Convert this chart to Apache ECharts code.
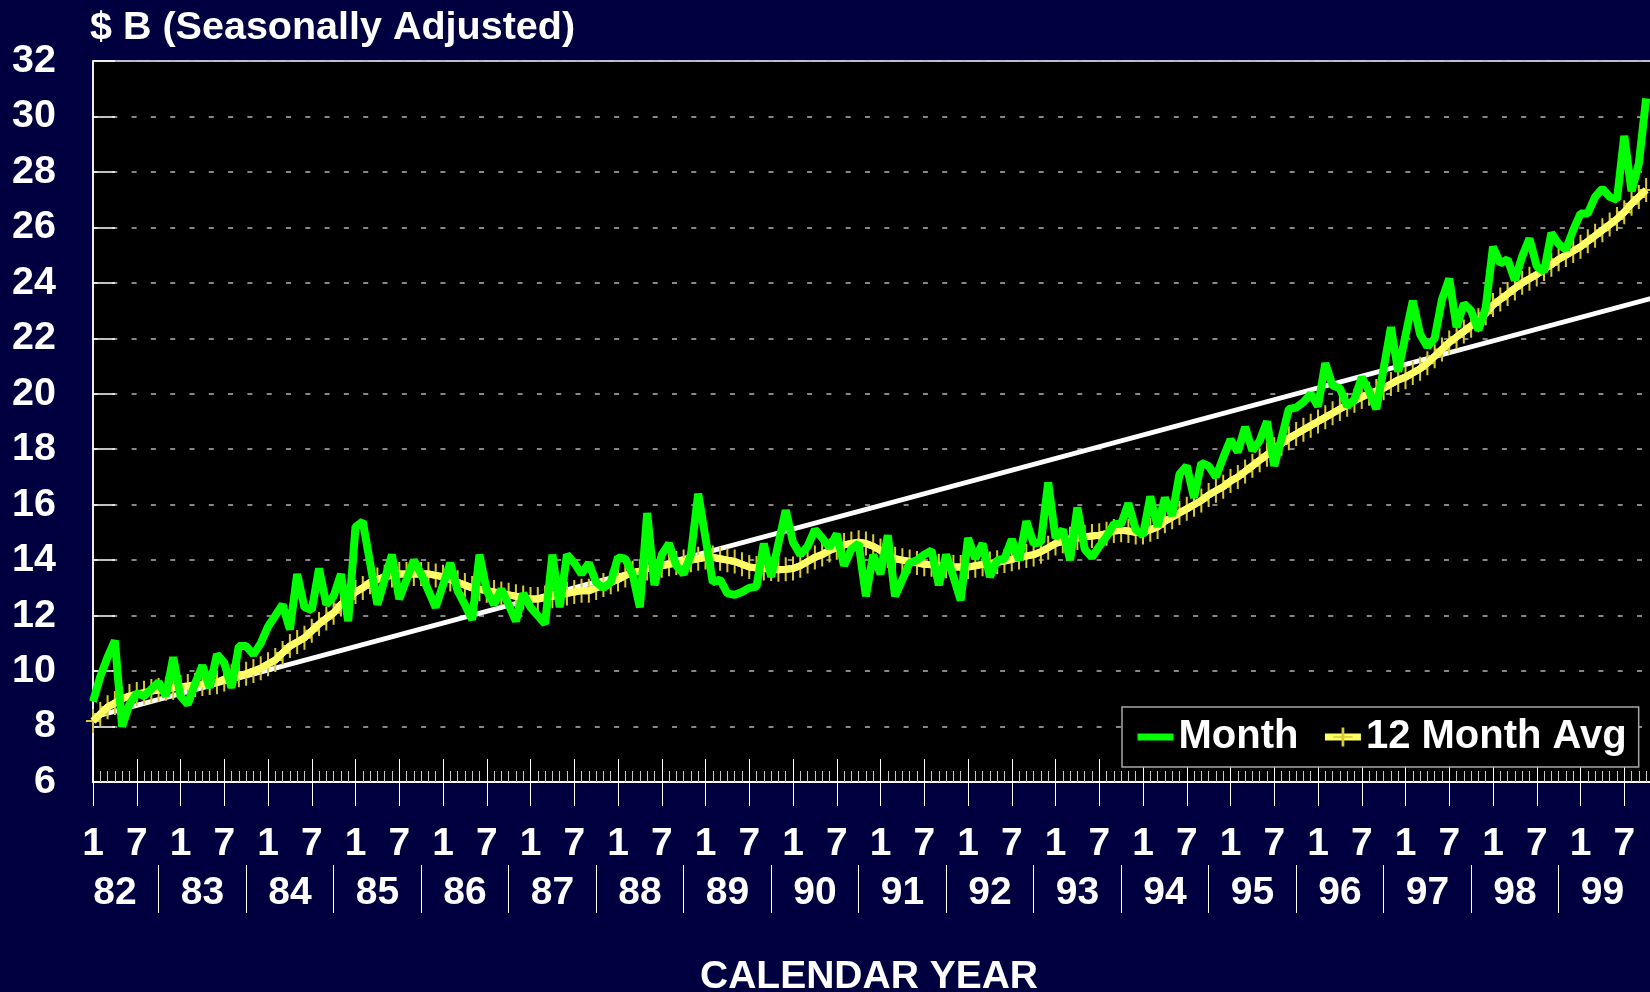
<!DOCTYPE html>
<html>
<head>
<meta charset="utf-8">
<title>$ B (Seasonally Adjusted)</title>
<script src="https://cdn.jsdelivr.net/npm/echarts@6/dist/echarts.min.js"></script>
<style>
  html, body { margin: 0; padding: 0; background: #000040; }
  #chart { width: 1650px; height: 992px; }
</style>
</head>
<body>
<div id="chart"></div>
<script>
// monthly values, Jan 1982 .. Oct 1999 ($ B)
var monthValues = [
  8.9, 9.8, 10.5, 11.1, 8.0, 8.8, 9.2, 9.1, 9.35, 9.6, 9.1, 10.5,          // 82
  9.1, 8.8, 9.55, 10.2, 9.4, 10.6, 10.3, 9.4, 10.9, 10.9, 10.6, 11.0,       // 83
  11.6, 12.0, 12.4, 11.5, 13.5, 12.3, 12.2, 13.7, 12.4, 12.7, 13.5, 11.8,   // 84
  15.2, 15.4, 13.9, 12.4, 13.3, 14.2, 12.6, 13.3, 14.0, 13.5, 12.9, 12.3,   // 85
  13.1, 13.9, 12.9, 12.4, 11.85, 14.2, 12.9, 12.4, 12.95, 12.4, 11.8, 12.8, // 86
  12.3, 12.0, 11.7, 14.2, 12.3, 14.2, 13.9, 13.5, 13.9, 13.2, 13.0, 13.2,   // 87
  14.1, 14.05, 13.5, 12.3, 15.7, 13.1, 14.2, 14.6, 13.8, 13.5, 14.2, 16.4,  // 88
  14.8, 13.2, 13.3, 12.8, 12.75, 12.85, 13.0, 13.05, 14.6, 13.4, 14.6, 15.8, // 89
  14.65, 14.2, 14.5, 15.1, 14.8, 14.45, 14.95, 13.8, 14.4, 14.6, 12.7, 14.2, // 90
  13.5, 14.9, 12.7, 13.3, 13.9, 14.0, 14.2, 14.35, 13.1, 14.2, 13.4, 12.55, // 91
  14.8, 14.05, 14.6, 13.4, 14.0, 14.05, 14.75, 14.0, 15.4, 14.6, 14.65, 16.8, // 92
  14.8, 15.1, 14.0, 15.9, 14.4, 14.1, 14.5, 14.85, 15.3, 15.3, 16.05, 15.1, // 93
  14.9, 16.3, 15.2, 16.25, 15.6, 17.1, 17.4, 16.25, 17.5, 17.4, 17.0, 17.7, // 94
  18.35, 17.9, 18.8, 17.95, 18.3, 19.0, 17.4, 18.4, 19.45, 19.5, 19.7, 20.0, // 95
  19.55, 21.1, 20.3, 20.2, 19.55, 19.8, 20.6, 20.1, 19.45, 20.9, 22.4, 20.8, // 96
  22.1, 23.35, 22.15, 21.7, 22.0, 23.4, 24.15, 22.4, 23.25, 23.0, 22.3, 23.1, // 97
  25.3, 24.7, 24.85, 24.1, 24.95, 25.6, 24.6, 24.4, 25.8, 25.4, 25.2, 25.9, // 98
  26.5, 26.5, 27.1, 27.4, 27.1, 27.0, 29.3, 27.3, 28.3, 30.65              // 99
];

// 12 month moving average
var avgValues = [
  8.2, 8.45, 8.7, 8.85, 9.0, 9.1, 9.17, 9.22, 9.28, 9.32, 9.36, 9.4,
  9.43, 9.46, 9.5, 9.53, 9.57, 9.6, 9.7, 9.8, 9.85, 9.9, 10.0, 10.1,
  10.25, 10.4, 10.65, 10.9, 11.05, 11.2, 11.45, 11.7, 11.9, 12.1, 12.4, 12.6,
  12.85, 13.0, 13.2, 13.3, 13.4, 13.45, 13.5, 13.5, 13.5, 13.5, 13.5, 13.45,
  13.4, 13.3, 13.2, 13.1, 13.0, 12.95, 12.9, 12.85, 12.8, 12.75, 12.7, 12.65,
  12.6, 12.6, 12.65, 12.7, 12.75, 12.8, 12.85, 12.9, 12.9, 13.0, 13.1, 13.2,
  13.3, 13.45, 13.55, 13.6, 13.7, 13.75, 13.8, 13.85, 13.9, 13.95, 14.0, 14.05,
  14.1, 14.1, 14.05, 14.0, 13.95, 13.85, 13.75, 13.72, 13.7, 13.68, 13.65, 13.67,
  13.7, 13.8, 13.95, 14.1, 14.2, 14.35, 14.45, 14.55, 14.6, 14.65, 14.6, 14.5,
  14.35, 14.15, 14.05, 14.0, 13.95, 13.9, 13.85, 13.83, 13.8, 13.78, 13.75, 13.75,
  13.75, 13.8, 13.85, 13.88, 13.92, 13.97, 14.03, 14.1, 14.15, 14.2, 14.3, 14.45,
  14.6, 14.68, 14.77, 14.8, 14.84, 14.87, 14.9, 14.95, 15.05, 15.08, 15.05, 15.0,
  15.0, 15.1, 15.2, 15.4, 15.55, 15.7, 15.85, 16.0, 16.15, 16.35, 16.5, 16.65,
  16.85, 17.0, 17.2, 17.4, 17.6, 17.8, 18.0, 18.2, 18.4, 18.55, 18.7, 18.85,
  19.0, 19.15, 19.3, 19.45, 19.6, 19.75, 19.88, 20.0, 20.1, 20.2, 20.35, 20.5,
  20.6, 20.75, 20.9, 21.1, 21.35, 21.6, 21.85, 22.05, 22.25, 22.45, 22.65, 22.9,
  23.2, 23.4, 23.6, 23.8, 24.0, 24.15, 24.3, 24.5, 24.65, 24.85, 25.0, 25.15,
  25.3, 25.5, 25.7, 25.9, 26.1, 26.3, 26.55, 26.85, 27.1, 27.35
];

// straight trend line: month index -> value
var trendX = [0, 216];
var trendY = [8.34, 23.6];

var yearLabels = ['82', '83', '84', '85', '86', '87', '88', '89', '90',
                  '91', '92', '93', '94', '95', '96', '97', '98', '99'];
var monthLabels = ['1', '7'];   // Jan / Jul tick labels
var yTicks = { min: 6, max: 32, step: 2 };

var FONT = "'Liberation Sans', Arial, sans-serif";
var PLUS = 'path://M6,0h2v24h-2z M0,11h14v2h-14z';

// tick positions (month index)
var everyMonth = [], halfYears = [], yearMid = [], yearSep = [];
for (var i = 0; i < 216; i++) everyMonth.push(i);
for (var i = 0; i < 216; i += 6) halfYears.push(i);
for (var k = 0; k < yearLabels.length; k++) {
  yearMid.push(12 * k + 3);
  if (k < yearLabels.length - 1) yearSep.push(12 * k + 9);
}

function pairs(arr) {
  return arr.map(function (v, i) { return [i, v]; });
}

var chart = echarts.init(document.getElementById('chart'));

var baseX = {
  type: 'value', min: 0, max: 216, position: 'bottom',
  axisLine: { show: false }, axisLabel: { show: false },
  splitLine: { show: false }
};

chart.setOption({
  backgroundColor: '#000040',
  animation: false,
  title: [
    {
      text: '$ B (Seasonally Adjusted)',
      left: 90, top: 8, padding: 0,
      textStyle: { color: '#fff', fontFamily: FONT, fontWeight: 'bold', fontSize: 39.5, lineHeight: 40 }
    },
    {
      text: 'CALENDAR YEAR',
      left: 869, top: 957, padding: 0, textAlign: 'center',
      textStyle: { color: '#fff', fontFamily: FONT, fontWeight: 'bold', fontSize: 39, lineHeight: 40 }
    }
  ],
  legend: {
    data: [
      { name: 'Month', itemStyle: { opacity: 0 } },   // line only, no mark
      { name: '12 Month Avg' }
    ],
    left: 1122, top: 707,
    padding: [10, 12],
    itemGap: 23, itemWidth: 36, itemHeight: 24,
    backgroundColor: '#000',
    borderColor: '#a8a8a8', borderWidth: 1.5,
    lineStyle: { width: 7 },
    textStyle: { color: '#fff', fontFamily: FONT, fontWeight: 'bold', fontSize: 40 }
  },
  grid: {
    left: 93, top: 61, width: 1575, height: 721,
    outerBoundsMode: 'none',
    show: true, backgroundColor: '#000', borderColor: '#fff', borderWidth: 1.5
  },
  xAxis: [
    // axis line, monthly minor ticks, "1 / 7" labels
    {
      type: 'value', min: 0, max: 216, position: 'bottom',
      axisLine: { show: true, lineStyle: { color: '#fff', width: 2 } },
      axisTick: { show: true, inside: true, length: 11, customValues: everyMonth,
                  lineStyle: { color: '#c8c8c8', width: 1 } },
      axisLabel: {
        customValues: halfYears, margin: 43, color: '#fff',
        fontFamily: FONT, fontWeight: 'bold', fontSize: 39,
        formatter: function (v) { return monthLabels[(v % 12) / 6]; }
      },
      splitLine: { show: false }
    },
    // half-year ticks, inside
    Object.assign({}, baseX, {
      axisTick: { show: true, inside: true, length: 23, customValues: halfYears,
                  lineStyle: { color: '#fff', width: 1 } }
    }),
    // half-year ticks, outside
    Object.assign({}, baseX, {
      axisTick: { show: true, inside: false, length: 24, customValues: halfYears,
                  lineStyle: { color: '#fff', width: 1 } }
    }),
    // year row with separators
    Object.assign({}, baseX, {
      offset: 83,
      axisTick: { show: true, inside: false, length: 48, customValues: yearSep,
                  lineStyle: { color: '#fff', width: 1 } },
      axisLabel: {
        show: true, customValues: yearMid, margin: 9, color: '#fff',
        fontFamily: FONT, fontWeight: 'bold', fontSize: 39,
        formatter: function (v) { return yearLabels[(v - 3) / 12]; }
      }
    })
  ],
  yAxis: {
    type: 'value', min: yTicks.min, max: yTicks.max, interval: yTicks.step,
    axisLine: { show: true, lineStyle: { color: '#fff', width: 1.5 } },
    axisTick: { show: true, inside: true, length: 22, lineStyle: { color: '#fff', width: 1.5 } },
    axisLabel: { color: '#fff', fontFamily: FONT, fontWeight: 'bold', fontSize: 39.5, margin: 37 },
    splitLine: { show: true, lineStyle: { color: '#b4b4b4', width: 1.5, type: [5, 14.3] } }
  },
  series: [
    {
      name: 'Trend', type: 'line', xAxisIndex: 0, z: 1,
      data: trendX.map(function (x, i) { return [x, trendY[i]]; }),
      symbol: 'none', lineStyle: { color: '#fff', width: 5 }
    },
    {
      name: '12 Month Avg', type: 'line', xAxisIndex: 0, z: 2,
      data: pairs(avgValues),
      symbol: PLUS, symbolSize: [14, 24], showSymbol: true,
      itemStyle: { color: '#d8c83c' },
      lineStyle: { color: '#ffff66', width: 7 }
    },
    {
      name: 'avgLine', type: 'line', xAxisIndex: 0, z: 3,
      data: pairs(avgValues),
      symbol: 'none', lineStyle: { color: '#ffff66', width: 7 }
    },
    {
      name: 'Month', type: 'line', xAxisIndex: 0, z: 4,
      data: pairs(monthValues),
      symbol: 'none',
      itemStyle: { color: '#00ff00' },
      lineStyle: { color: '#00ff00', width: 8 }
    }
  ]
});
</script>
</body>
</html>
